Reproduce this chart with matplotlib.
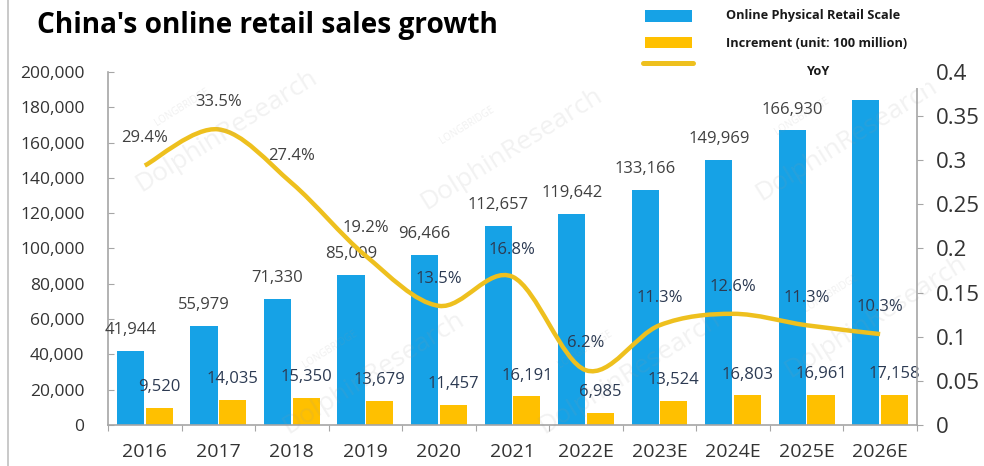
import numpy as np
import matplotlib.pyplot as plt
from matplotlib.path import Path
from matplotlib.patches import PathPatch, Rectangle
from matplotlib.lines import Line2D
import matplotlib.ticker as ticker

plt.rcParams['font.family'] = ['Open Sans', 'DejaVu Sans']

years = ['2016', '2017', '2018', '2019', '2020', '2021',
         '2022E', '2023E', '2024E', '2025E', '2026E']
retail_scale = [41944, 55979, 71330, 85009, 96466, 112657,
                119642, 133166, 149969, 166930, 184088]
increment = [9520, 14035, 15350, 13679, 11457, 16191,
             6985, 13524, 16803, 16961, 17158]
yoy = [0.294, 0.335, 0.274, 0.192, 0.135, 0.168,
       0.062, 0.113, 0.126, 0.113, 0.103]
# the 2026E scale bar carries no value label
scale_labelled = [True] * 10 + [False]

blue = "#16A2E6"
yellow = "#FFC000"
line_gold = "#EEC01E"
spine_grey = "#A6A6A6"
label_dark = "#404040"
label_navy = "#2C3A52"

fig = plt.figure(figsize=(9.84, 4.66), dpi=100, facecolor="white")
ax = fig.add_axes([0.1098, 0.088, 0.822, 0.7575])
ax2 = ax.twinx()

x = np.arange(len(years))
w = 0.37
ax.bar(x - 0.195, retail_scale, w, color=blue, zorder=2)
ax.bar(x + 0.195, increment, w, color=yellow, zorder=2)

ax.set_xlim(-0.5, len(years) - 0.5)
ax.set_ylim(0, 200000)
ax2.set_ylim(0, 0.4)

# value labels over the bars
for i, (v, show) in enumerate(zip(retail_scale, scale_labelled)):
    if show:
        ax.annotate(f"{v:,}", xy=(x[i] - 0.195, v), xytext=(0, 15),
                    textcoords="offset points", ha="center", va="center",
                    fontsize=12, color=label_dark, zorder=3)
for i, v in enumerate(increment):
    ax.annotate(f"{v:,}", xy=(x[i] + 0.195, v), xytext=(0, 15),
                textcoords="offset points", ha="center", va="center",
                fontsize=12, color=label_navy, zorder=3)

# smoothed YoY line (Catmull-Rom segments as cubic Beziers)
pts = np.column_stack([x, yoy]).astype(float)
verts = [tuple(pts[0])]
codes = [Path.MOVETO]
for i in range(len(pts) - 1):
    p0 = pts[max(i - 1, 0)]
    p1 = pts[i]
    p2 = pts[i + 1]
    p3 = pts[min(i + 2, len(pts) - 1)]
    c1 = p1 + (p2 - p0) / 6.0
    c2 = p2 - (p3 - p1) / 6.0
    verts += [tuple(c1), tuple(c2), tuple(p2)]
    codes += [Path.CURVE4] * 3
ax2.add_patch(PathPatch(Path(verts, codes), facecolor="none",
                        edgecolor=line_gold, lw=3.2, capstyle="butt",
                        zorder=4))

for i, v in enumerate(yoy):
    ax2.annotate(f"{v * 100:.1f}%", xy=(x[i], v), xytext=(0, 19.5),
                 textcoords="offset points", ha="center", va="center",
                 fontsize=12, color=label_navy if 4 <= i else label_dark,
                 zorder=5)

# spines
for a in (ax, ax2):
    a.spines["top"].set_visible(False)
ax.spines["right"].set_visible(False)
ax2.spines["left"].set_visible(False)
ax2.spines["bottom"].set_visible(False)
ax.spines[["left", "bottom"]].set_color(spine_grey)
ax2.spines["right"].set_color(spine_grey)
ax.spines[["left", "bottom"]].set_linewidth(1.2)
ax2.spines["right"].set_linewidth(1.2)

# left axis
ax.yaxis.set_major_locator(ticker.MultipleLocator(20000))
ax.yaxis.set_major_formatter(ticker.FuncFormatter(lambda v, p: f"{int(v):,}"))
ax.tick_params(axis="y", direction="in", length=4, color=spine_grey,
               labelsize=12.5, labelcolor="#333333", pad=17)

# right axis
ax2.yaxis.set_major_locator(ticker.MultipleLocator(0.05))
ax2.yaxis.set_major_formatter(ticker.FuncFormatter(lambda v, p: f"{v:g}"))
ax2.tick_params(axis="y", direction="out", length=4, color=spine_grey,
                labelsize=16, labelcolor="#333333", pad=10)

# x axis: boundary ticks, labels in between
ax.set_xticks(np.arange(-0.5, len(years), 1.0))
ax.set_xticklabels([])
ax.set_xticks(x, minor=True)
ax.set_xticklabels(years, minor=True)
ax.tick_params(axis="x", which="major", direction="out", length=4,
               color=spine_grey)
ax.tick_params(axis="x", which="minor", length=0, labelsize=14,
               labelcolor="#333333", pad=13)

# faint watermarks
for (wx, wy) in [(0.23, 0.72), (0.52, 0.68), (0.86, 0.70),
                 (0.38, 0.20), (0.64, 0.20), (0.89, 0.32)]:
    fig.text(wx, wy, "DolphinResearch", rotation=32, fontsize=19,
             color="#9A9A9A", alpha=0.13, ha="center", va="center",
             zorder=1)
    fig.text(wx - 0.045, wy + 0.05, "LONGBRIDGE", rotation=32, fontsize=7,
             color="#9A9A9A", alpha=0.15, ha="center", va="center",
             zorder=1)

# legend block on a white panel at the top right
fig.patches.append(Rectangle((0.625, 0.811), 0.315, 0.189,
                             transform=fig.transFigure, facecolor="white",
                             edgecolor="none", zorder=6))
fig.patches.append(Rectangle((0.6555, 0.9528), 0.0478, 0.0258,
                             transform=fig.transFigure, facecolor=blue,
                             edgecolor="none", zorder=7))
fig.patches.append(Rectangle((0.6555, 0.897), 0.0478, 0.0236,
                             transform=fig.transFigure, facecolor=yellow,
                             edgecolor="none", zorder=7))
fig.add_artist(Line2D([0.6535, 0.7043], [0.8648, 0.8648],
                      transform=fig.transFigure, color=line_gold, lw=3.6,
                      solid_capstyle="round", zorder=7))
fig.text(0.7378, 0.9678, "Online Physical Retail Scale", fontsize=9.2,
         weight="bold", color="#1A1A1A", va="center", zorder=8)
fig.text(0.7378, 0.9077, "Increment (unit: 100 million)", fontsize=9.2,
         weight="bold", color="#1A1A1A", va="center", zorder=8)
fig.text(0.8313, 0.8455, "YoY", fontsize=9.2, weight="bold",
         color="#1A1A1A", ha="center", va="center", zorder=8)

# title
fig.text(0.0376, 0.929, "China's online retail sales growth",
         weight="bold", fontsize=20.2, color="black", va="baseline", zorder=8)

# thin frame line on the left edge
fig.add_artist(Line2D([0.0081, 0.0081], [0, 1], transform=fig.transFigure,
                      color="#C0C0C0", lw=1.2, zorder=8))

fig.savefig("out.png", dpi=100, facecolor="white")
